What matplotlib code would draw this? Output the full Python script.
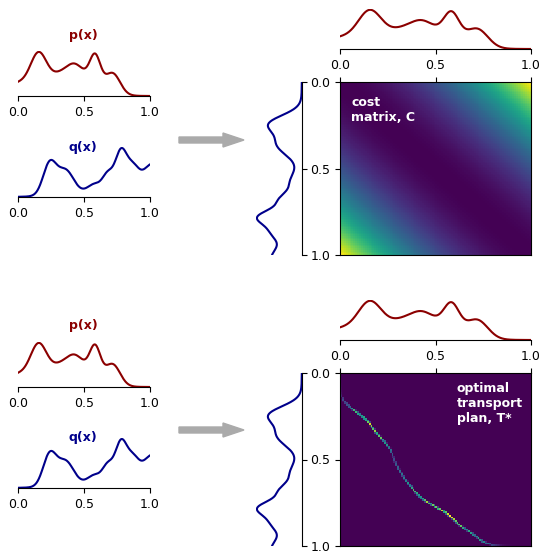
import numpy as np
import matplotlib
matplotlib.use("Agg")
import matplotlib.pyplot as plt

# grid on [0, 1] for the matrices, finer grid for the curves
n_grid = 100
x = np.linspace(0, 1, n_grid)
xf = np.linspace(0, 1, 400)

# p(x): bumps (centre, width, height)
p_mu = [0.155, 0.0, 0.40, 0.43, 0.585, 0.72]
p_sd = [0.06, 0.10, 0.16, 0.05, 0.04, 0.055]
p_h = [0.70, 0.26, 0.60, 0.12, 0.60, 0.42]

# q(x): bumps
q_mu = [0.50, 0.24, 0.36, 0.58, 0.68, 0.78, 0.87, 1.02]
q_sd = [0.20, 0.05, 0.06, 0.05, 0.04, 0.045, 0.045, 0.08]
q_h = [0.08, 0.55, 0.40, 0.15, 0.32, 0.75, 0.40, 0.58]

p_color = "darkred"
q_color = "darkblue"


def density(mu, sd, h, xs):
    d = np.zeros_like(xs)
    for m, s, a in zip(mu, sd, h):
        d += a * np.exp(-0.5 * ((xs - m) / s) ** 2)
    return d / d.sum()


p = density(p_mu, p_sd, p_h, x)
q = density(q_mu, q_sd, q_h, x)
pf = density(p_mu, p_sd, p_h, xf)
qf = density(q_mu, q_sd, q_h, xf)

# cost matrix (rows = q / y, cols = p / x)
C = (x[:, None] - x[None, :]) ** 2

# optimal transport plan in 1D: north-west corner on sorted grids
T = np.zeros((n_grid, n_grid))
a = p.copy()
b = q.copy()
i = j = 0
while i < n_grid and j < n_grid:
    m = min(a[j], b[i])
    T[i, j] += m
    a[j] -= m
    b[i] -= m
    if a[j] <= 1e-15:
        j += 1
    if i < n_grid and b[i] <= 1e-15:
        i += 1

W, H = 544, 551
fig = plt.figure(figsize=(W / 100, H / 100), dpi=100)


def px_axes(left, top, right, bottom):
    return fig.add_axes([left / W, 1 - bottom / H, (right - left) / W, (bottom - top) / H])


def plain_density(ax, d, color):
    ax.plot(xf, d, color=color, lw=1.5)
    ax.set_xlim(0, 1)
    ax.set_ylim(0, d.max() * 1.02)
    ax.set_xticks([0, 0.5, 1.0])
    ax.set_yticks([])
    for s in ["top", "right", "left"]:
        ax.spines[s].set_visible(False)
    ax.tick_params(labelsize=9)


def panel(y0):
    # left side: p and q
    ax_p = px_axes(18, y0 + 16, 150, y0 + 61)
    plain_density(ax_p, pf, p_color)
    fig.text(83 / W, 1 - (y0) / H, "p(x)", color=p_color, fontsize=9,
             fontweight="bold", ha="center", va="center")
    ax_q = px_axes(18, y0 + 112, 150, y0 + 162)
    plain_density(ax_q, qf, q_color)
    fig.text(83 / W, 1 - (y0 + 112) / H, "q(x)", color=q_color, fontsize=9,
             fontweight="bold", ha="center", va="center")

    # top marginal
    ax_t = px_axes(340, y0 - 26, 531, y0 + 14)
    plain_density(ax_t, pf, p_color)

    # left marginal
    ax_l = px_axes(256, y0 + 47, 302, y0 + 220)
    ax_l.plot(qf, xf, color=q_color, lw=1.5)
    ax_l.set_ylim(1, 0)
    ax_l.set_xlim(qf.max() * 1.02, 0)
    ax_l.set_xticks([])
    ax_l.set_yticks([0, 0.5, 1.0])
    ax_l.yaxis.tick_right()
    ax_l.tick_params(labelright=False)
    for s in ["top", "left", "bottom"]:
        ax_l.spines[s].set_visible(False)

    # heatmap
    ax_h = px_axes(340, y0 + 47, 531, y0 + 220)
    ax_h.set_xticks([0, 0.5, 1.0])
    ax_h.set_yticks([0, 0.5, 1.0])
    ax_h.xaxis.tick_top()
    ax_h.tick_params(labeltop=False, labelsize=9)
    return ax_h


# top panel: cost matrix
ax_c = panel(35)
ax_c.imshow(C, cmap="viridis", extent=[0, 1, 1, 0], aspect="auto",
            interpolation="nearest")
ax_c.text(0.06, 0.92, "cost\nmatrix, C", color="white", fontsize=9,
          fontweight="bold", transform=ax_c.transAxes, va="top", ha="left")

# bottom panel: transport plan
ax_t2 = panel(326)
ax_t2.imshow(T, cmap="viridis", extent=[0, 1, 1, 0], aspect="auto",
             interpolation="nearest")
ax_t2.text(0.61, 0.95, "optimal\ntransport\nplan, T*", color="white", fontsize=9,
           fontweight="bold", transform=ax_t2.transAxes, va="top", ha="left")

# arrows in pixel coordinates
ax_o = fig.add_axes([0, 0, 1, 1], zorder=-1)
ax_o.set_xlim(0, W)
ax_o.set_ylim(H, 0)
ax_o.axis("off")
for ya in [140, 430]:
    ax_o.arrow(179, ya, 44, 0, width=6, head_width=14, head_length=21,
               color="#aaaaaa", length_includes_head=False)

fig.savefig("out.png", dpi=100)
